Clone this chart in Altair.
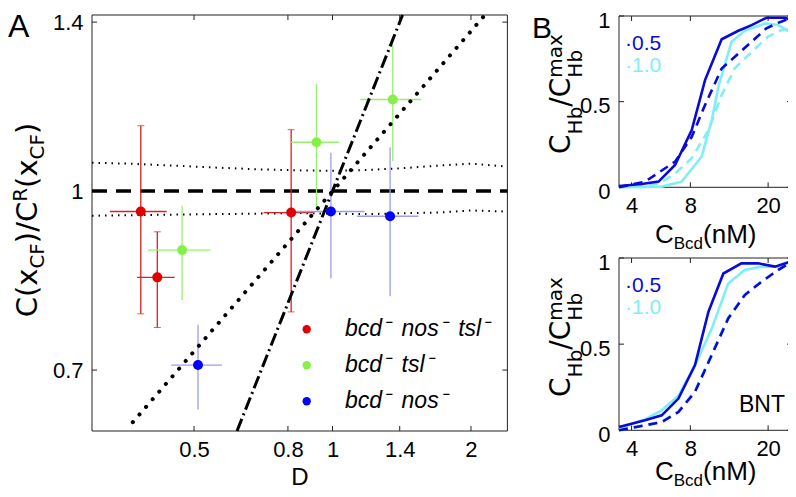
import altair as alt
import pandas as pd

# ---------------- Panel A data ----------------
series_names = ["bcd⁻\u2002nos⁻\u2002tsl⁻", "bcd⁻\u2002tsl⁻", "bcd⁻\u2002nos⁻"]
point_colors = ["#e00000", "#86f04a", "#0000ff"]
bar_colors = ["#d82020", "#98f070", "#9c9cf0"]

red_D = [0.383, 0.416, 0.813]
red_C = [0.960, 0.842, 0.958]
red_Clo = [0.783, 0.762, 0.786]
red_Chi = [1.139, 0.922, 1.130]
red_Dlo = [0.328, 0.376, 0.708]
red_Dhi = [0.436, 0.454, 0.912]

green_D = [0.471, 0.923, 1.352]
green_C = [0.889, 1.102, 1.200]
green_Clo = [0.805, 0.967, 1.061]
green_Chi = [0.971, 1.238, 1.339]
green_Dlo = [0.397, 0.812, 1.149]
green_Dhi = [0.543, 1.034, 1.558]

blue_D = [0.510, 0.992, 1.334]
blue_C = [0.707, 0.960, 0.951]
blue_Clo = [0.647, 0.840, 0.811]
blue_Chi = [0.766, 1.079, 1.091]
blue_Dlo = [0.446, 0.816, 1.131]
blue_Dhi = [0.575, 1.174, 1.537]

unity_D = [0.30, 2.40]
unity_C = [1.0, 1.0]
dashdot_D = [0.62, 1.42]
dashdot_C = [0.62, 1.42]
dotted_D = [0.368, 2.145]
dotted_C = [0.631, 1.420]

band_D = [0.30, 0.36, 0.45, 0.55, 0.70, 0.85, 1.0, 1.2, 1.45, 1.7, 2.0, 2.4]
band_up = [1.058, 1.056, 1.052, 1.048, 1.044, 1.042, 1.041, 1.043, 1.047, 1.052, 1.056, 1.050]
band_lo = [0.952, 0.953, 0.954, 0.955, 0.956, 0.957, 0.956, 0.955, 0.957, 0.958, 0.962, 0.960]

A_xdomain = [0.3, 2.4]
A_ydomain = [0.62, 1.42]
A_xticks = [0.5, 0.8, 1, 1.4, 2]
A_yticks = [0.7, 1, 1.4]

# ---------------- Panel B data ----------------
B_xdomain = [3.45, 26.5]
B_ydomain = [0, 1]
B_xticks = [4, 8, 20]
B_yticks = [0, 0.5, 1]

b1_s05_C = [3.45, 4.51, 5.50, 6.68, 8.13, 9.51, 11.57, 14.08, 16.46, 19.6, 24.4, 26.5]
b1_s05_v = [0.008, 0.019, 0.033, 0.130, 0.334, 0.626, 0.864, 0.914, 0.947, 0.99, 0.99, 0.975]
b1_d05_C = [3.45, 4.69, 6.68, 8.13, 9.51, 11.57, 14.08, 16.46, 19.6, 22.5, 26.5]
b1_d05_v = [0.0, 0.033, 0.15, 0.295, 0.48, 0.694, 0.78, 0.85, 0.928, 0.96, 0.99]
b1_s10_C = [3.45, 5.71, 7.23, 9.14, 10.29, 11.13, 13.0, 15.2, 19.3, 22.5, 26.5]
b1_s10_v = [0.0, 0.004, 0.033, 0.18, 0.39, 0.587, 0.85, 0.914, 0.957, 0.947, 0.899]
b1_d10_C = [3.45, 5.5, 6.68, 8.13, 9.9, 11.57, 13.5, 16.46, 20.0, 23.4, 26.5]
b1_d10_v = [0.0, 0.02, 0.08, 0.17, 0.334, 0.539, 0.695, 0.79, 0.88, 0.918, 0.93]

b2_s05_C = [3.45, 4.69, 5.71, 6.95, 8.45, 9.9, 11.8, 14.6, 17.8, 21.7, 26.5]
b2_s05_v = [0.019, 0.058, 0.087, 0.184, 0.378, 0.688, 0.91, 0.969, 0.969, 0.95, 0.983]
b2_s10_C = [3.45, 4.69, 5.71, 6.95, 8.45, 10.29, 12.5, 15.2, 18.5, 22.5, 26.5]
b2_s10_v = [0.01, 0.064, 0.116, 0.20, 0.378, 0.59, 0.852, 0.93, 0.95, 0.95, 0.98]
b2_d05_C = [3.45, 4.69, 5.71, 6.95, 8.45, 10.29, 12.5, 15.2, 18.5, 22.5, 26.5]
b2_d05_v = [0.0, 0.029, 0.048, 0.106, 0.223, 0.436, 0.649, 0.785, 0.862, 0.93, 0.98]
b2_d10_C = [3.45, 4.69, 5.71, 6.95, 8.45, 10.29, 12.5, 15.2, 18.5, 22.5, 26.5]
b2_d10_v = [0.0, 0.03, 0.05, 0.11, 0.23, 0.445, 0.655, 0.79, 0.865, 0.932, 0.98]

DARK = "#0a0ad8"
CYAN = "#80eef4"

# ---------------- layout (chart pixels) ----------------
W, H = 780, 481
A_XR = [84, 499.4]
A_YR = [423, 7]
B_XR = [611, 784]
B1_YR = [179.3, 8]
B2_YR = [422.3, 250]
FONT = "Liberation Sans"
RFONT = "DejaVu Sans"
ONE = pd.DataFrame({"k": [0]})

WID = {' ': 278, '(': 333, ')': 333, '/': 278, '.': 278, 'B': 667, 'C': 722, 'D': 722,
       'F': 611, 'H': 722, 'M': 833, 'N': 722, 'R': 722, 'T': 611, 'a': 556, 'b': 556,
       'c': 500, 'd': 556, 'm': 833, 'n': 556, 'x': 500}
WID_DJ = {'C': 698, '(': 390, 'x': 592, ')': 390, '/': 337, 'R': 695, 'F': 575, 'H': 752,
          'b': 635, 'm': 974, 'a': 613}


def tw(s, size, font=FONT):
    table = WID_DJ if font == RFONT else WID
    return sum(table.get(ch, 556) for ch in s) / 1000.0 * size


def text(t, x, y, size, angle=None, align="left", baseline="alphabetic", color="black",
         style="normal", font=FONT):
    kw = dict(text=t, fontSize=size, font=font, align=align, baseline=baseline, color=color, fontStyle=style)
    if angle is not None:
        kw["angle"] = angle
    return alt.Chart(ONE).mark_text(**kw).encode(x=alt.value(x), y=alt.value(y))


def rot_label(groups, xb, yc):
    total = sum(max(tw(t, s, RFONT) for t, s, _ in g) for g in groups)
    y = yc + total / 2
    out = []
    for g in groups:
        for t, s, sh in g:
            out.append(text(t, xb + sh, y, s, angle=270, font=RFONT))
        y -= max(tw(t, s, RFONT) for t, s, _ in g)
    return out


def hor_label(groups, x0, yb):
    out = []
    x = x0
    for g in groups:
        for t, s, sh in g:
            out.append(text(t, x, yb + sh, s))
        x += max(tw(t, s) for t, s, _ in g)
    return out


def sc(dom, rng, log=False):
    if log:
        return alt.Scale(type="log", domain=dom, range=rng, nice=False)
    return alt.Scale(domain=dom, range=rng, nice=False, zero=False)


def frame_with_axes(xs, ys, xdom, ydom, xticks, yticks, xr, yr, ylab_offset):
    df = pd.DataFrame({"x0": [xdom[0]], "x1": [xdom[1]], "y0": [ydom[0]], "y1": [ydom[1]]})
    common = dict(labelFontSize=22, labelFont=FONT, labelColor="black", ticks=False, tickSize=0,
                  domain=False, grid=False, labelOverlap=False, labelFlush=False, format="~g")
    xa = alt.Axis(orient="bottom", offset=yr[0] - H, values=xticks, labelPadding=8, **common)
    ya = alt.Axis(orient="left", offset=-xr[0], values=yticks, labelPadding=9,
                  labelOffset=ylab_offset, **common)
    fr = alt.Chart(df).mark_rect(fillOpacity=0, stroke="#222222", strokeWidth=1).encode(
        x=alt.X("x0:Q", scale=xs, axis=xa, title=None), x2="x1:Q",
        y=alt.Y("y0:Q", scale=ys, axis=ya, title=None), y2="y1:Q")
    layers = [fr]
    tx = pd.DataFrame({"v": xticks})
    ty = pd.DataFrame({"v": yticks})
    for yv, y2v in [(yr[0], yr[0] - 5), (yr[1], yr[1] + 5)]:
        layers.append(alt.Chart(tx).mark_rule(color="#222222", strokeWidth=1).encode(
            x=alt.X("v:Q", scale=xs, axis=None), y=alt.value(yv), y2=alt.value(y2v)))
    for xv, x2v in [(xr[0], xr[0] + 5), (xr[1], xr[1] - 5)]:
        layers.append(alt.Chart(ty).mark_rule(color="#222222", strokeWidth=1).encode(
            y=alt.Y("v:Q", scale=ys, axis=None), x=alt.value(xv), x2=alt.value(x2v)))
    return layers


layers = []

# ================= Panel A =================
xA = sc(A_xdomain, A_XR, log=True)
yA = sc(A_ydomain, A_YR, log=True)


def lineA(D, C, **kw):
    df = pd.DataFrame({"D": D, "C": C})
    return alt.Chart(df).mark_line(**kw).encode(
        x=alt.X("D:Q", scale=xA, axis=None), y=alt.Y("C:Q", scale=yA, axis=None))


layers += frame_with_axes(xA, yA, A_xdomain, A_ydomain, A_xticks, A_yticks, A_XR, A_YR, 0)
layers.append(lineA(band_D, band_up, color="black", strokeWidth=2, strokeDash=[1.5, 5]))
layers.append(lineA(band_D, band_lo, color="black", strokeWidth=2, strokeDash=[1.5, 5]))
layers.append(lineA(unity_D, unity_C, color="black", strokeWidth=3.5, strokeDash=[15, 9]))

all_series = [
    (red_D, red_C, red_Clo, red_Chi, red_Dlo, red_Dhi),
    (green_D, green_C, green_Clo, green_Chi, green_Dlo, green_Dhi),
    (blue_D, blue_C, blue_Clo, blue_Chi, blue_Dlo, blue_Dhi),
]
for i, (D, C, Clo, Chi, Dlo, Dhi) in enumerate(all_series):
    df = pd.DataFrame({"D": D, "C": C, "Clo": Clo, "Chi": Chi, "Dlo": Dlo, "Dhi": Dhi})
    layers.append(alt.Chart(df).mark_rule(color=bar_colors[i], strokeWidth=1.3).encode(
        x=alt.X("D:Q", scale=xA, axis=None), y=alt.Y("Clo:Q", scale=yA, axis=None), y2="Chi:Q"))
    layers.append(alt.Chart(df).mark_rule(color=bar_colors[i], strokeWidth=1.3).encode(
        x=alt.X("Dlo:Q", scale=xA, axis=None), x2="Dhi:Q", y=alt.Y("C:Q", scale=yA, axis=None)))
    if i == 0:
        for f in ["Clo", "Chi"]:
            layers.append(alt.Chart(df).mark_tick(color=bar_colors[i], orient="horizontal", size=7, thickness=1).encode(
                x=alt.X("D:Q", scale=xA, axis=None), y=alt.Y(f + ":Q", scale=yA, axis=None)))

layers.append(lineA(dashdot_D, dashdot_C, color="black", strokeWidth=3, strokeDash=[13, 4, 2, 4]))
layers.append(lineA(dotted_D, dotted_C, color="black", strokeWidth=4, strokeDash=[0.1, 10], strokeCap="round"))

for i, (D, C, *_rest) in enumerate(all_series):
    df = pd.DataFrame({"D": D, "C": C})
    layers.append(alt.Chart(df).mark_point(filled=True, size=100, opacity=1, color=point_colors[i]).encode(
        x=alt.X("D:Q", scale=xA, axis=None), y=alt.Y("C:Q", scale=yA, axis=None)))

# legend of panel A
for i, name in enumerate(series_names):
    yy = 321.3 + 36 * i
    layers.append(alt.Chart(ONE).mark_point(filled=True, size=70, opacity=1, color=point_colors[i]).encode(
        x=alt.value(298.7), y=alt.value(yy)))
    layers.append(text(name, 337, yy, 23, baseline="middle", style="italic"))

# titles of panel A
layers.append(text("A", 0, 29, 32))
layers.append(text("D", 292, 477, 24, align="center"))
layers += rot_label([[("C(x", 29, 0)], [("CF", 20, 7)], [(")/C", 29, 0)], [("R", 20, -10)],
                     [("(x", 29, 0)], [("CF", 20, 7)], [(")", 29, 0)]], 29, 212)

# ================= Panel B =================
xB = sc(B_xdomain, B_XR, log=True)


def panelB(yr, curves, xtitle_y, ytitle_c):
    yB = sc(B_ydomain, yr)
    out = frame_with_axes(xB, yB, B_xdomain, B_ydomain, B_xticks, B_yticks, B_XR, yr, 4)
    for C, v, color, dash in curves:
        df = pd.DataFrame({"C": C, "v": v})
        kw = dict(color=color, strokeWidth=2.6)
        if dash:
            kw["strokeDash"] = [9, 6]
        out.append(alt.Chart(df).mark_line(**kw).encode(
            x=alt.X("C:Q", scale=xB, axis=None), y=alt.Y("v:Q", scale=yB, axis=None)))
    out.append(text("·0.5", 617, yr[1] + 34, 21, color=DARK))
    out.append(text("·1.0", 617, yr[1] + 56, 21, color=CYAN))
    out += hor_label([[("C", 26, 0)], [("Bcd", 17, 6)], [("(nM)", 26, 0)]], 647, xtitle_y)
    out += rot_label([[("C", 28, 0)], [("Hb", 20, 12)], [("/C", 28, 0)],
                      [("Hb", 20, 12), ("max", 20, -8)]], 562, ytitle_c)
    return out


layers += panelB(B1_YR, [
    (b1_d10_C, b1_d10_v, CYAN, True),
    (b1_s10_C, b1_s10_v, CYAN, False),
    (b1_d05_C, b1_d05_v, DARK, True),
    (b1_s05_C, b1_s05_v, DARK, False),
], 235, 86)

layers += panelB(B2_YR, [
    (b2_d10_C, b2_d10_v, CYAN, True),
    (b2_s10_C, b2_s10_v, CYAN, False),
    (b2_d05_C, b2_d05_v, DARK, True),
    (b2_s05_C, b2_s05_v, DARK, False),
], 472, 329)

layers.append(text("BNT", 731, 404, 23))
layers.append(text("B", 524, 30, 30))

chart = alt.layer(*layers).resolve_scale(x="independent", y="independent").properties(
    width=W, height=H, padding=0, autosize=alt.AutoSizeParams(type="none")
).configure_view(strokeWidth=0)

chart.save("out.html", embed_options={"renderer": "svg", "actions": False})
